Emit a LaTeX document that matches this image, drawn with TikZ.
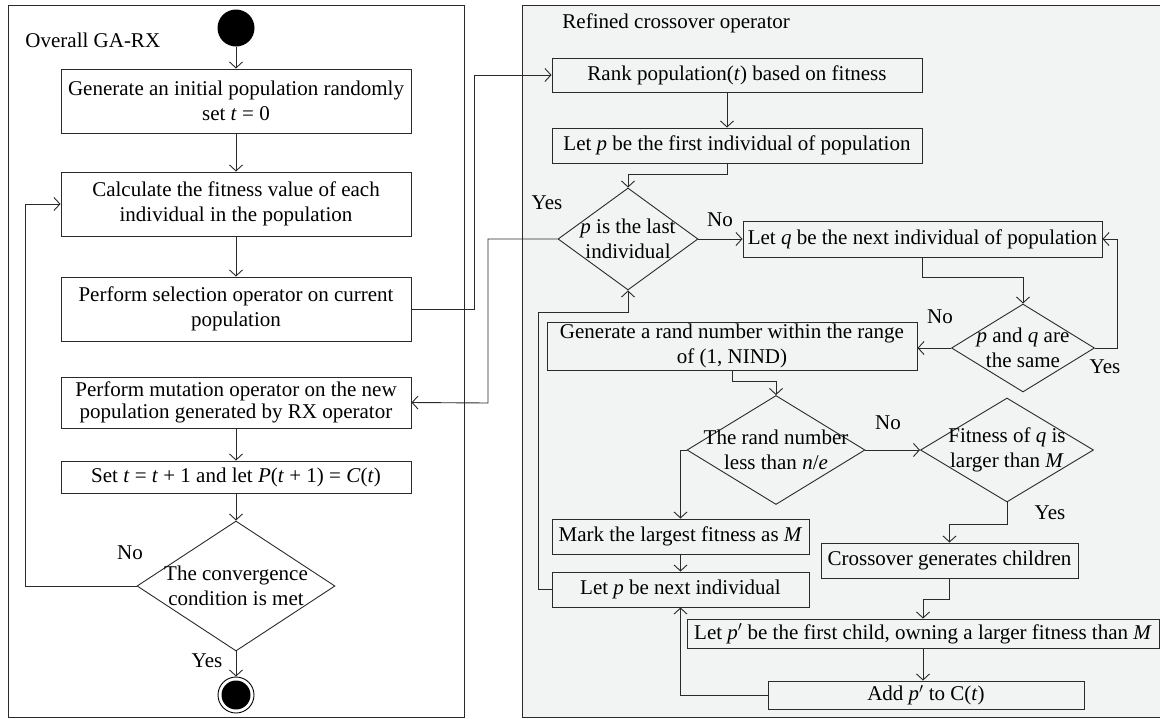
\documentclass[tikz,border=0pt]{standalone}
\usepackage{fontspec}
\setmainfont{Liberation Serif}
\usetikzlibrary{shapes.geometric,arrows.meta}
\definecolor{panelgray}{HTML}{F2F3F3}
\definecolor{linegray}{HTML}{2A2A2A}
\newcommand{\mv}[1]{\textit{#1}}

\begin{document}
\begin{tikzpicture}
    [x=1pt,y=-1pt,line width=0.9pt,draw=linegray,
     every node/.style={inner sep=0pt,font=\fontsize{21}{25}\selectfont},
     box/.style={draw=linegray,align=center,minimum width=#1},
     box/.default=350,
     dia/.style={draw=linegray,diamond},
     dtext/.style={align=center},
     >={Straight Barb[length=6pt,width=13pt]}]
    \useasboundingbox (0,0) rectangle (1160,718);
    \draw (8,5) rectangle (464,717);
    \draw[fill=panelgray] (522,5) rectangle (1175,717);

    \node[anchor=base west] (t1) at (25,47) {Overall GA-RX};
    \node[circle,fill=black,minimum size=37] (start) at (236,28) {};
    \node[box,minimum height=64] (b1) at (236,101) {Generate an initial population randomly\\set \mv{t} = 0};
    \node[box,minimum height=64] (b2) at (236,204) {Calculate the fitness value of each\\individual in the population};
    \node[box,minimum height=64] (b3) at (236,309) {Perform selection operator on current\\population};
    \node[box,minimum height=51,font=\fontsize{21}{22}\selectfont] (b4) at (236,402.5) {Perform mutation operator on the new\\population generated by RX operator};
    \node[box,minimum height=32] (b5) at (236,477) {Set \mv{t} = \mv{t} + 1 and let \mv{P}(\mv{t} + 1) = \mv{C}(\mv{t})};
    \node[dia,minimum width=198,minimum height=130] (d1) at (236,586) {};
    \node[dtext] (d1t) at (d1) {The convergence\\condition is met};
    \node[circle,draw=black,minimum size=36] (stop) at (236,695) {};
    \node[circle,fill=black,minimum size=29] (stopin) at (stop) {};
    \node (no1) at (130,553) {No};
    \node (yes1) at (207,661) {Yes};

    \node[anchor=base west] (t2) at (562,28) {Refined crossover operator};
    \node[box=370,minimum height=34] (r1) at (737,75) {Rank population(\mv{t}) based on fitness};
    \node[box=370,minimum height=35] (r2) at (737,145.5) {Let \mv{p} be the first individual of population};
    \node[dia,minimum width=140,minimum height=102] (d2) at (628,239) {};
    \node[dtext] (d2t) at (d2) {\mv{p} is the last\\individual};
    \node[box=359,minimum height=36] (r3) at (922.5,239) {Let \mv{q} be the next individual of population};
    \node[dia,minimum width=143,minimum height=88] (d3) at (1023,348) {};
    \node[dtext] (d3t) at (d3) {\mv{p} and \mv{q} are\\the same};
    \node[box=370,minimum height=48] (r4) at (732,346) {Generate a rand number within the range\\of (1, NIND)};
    \node[dia,minimum width=178,minimum height=109] (d4) at (776,450) {};
    \node[dtext] (d4t) at (d4) {The rand number\\less than \mv{n}/\mv{e}};
    \node[dia,minimum width=173,minimum height=104] (d5) at (1007,450) {};
    \node[dtext] (d5t) at (d5) {Fitness of \mv{q} is\\larger than \mv{M}};
    \node[box=257,minimum height=35] (r5) at (680.5,536.5) {Mark the largest fitness as \mv{M}};
    \node[box=257,minimum height=35] (r6) at (680.5,589.5) {Let \mv{p} be next individual};
    \node[box=257,minimum height=35] (r7) at (949.5,560.5) {Crossover generates children};
    \node[box=472,minimum height=29] (r8) at (923,633.5) {Let \mv{p}$'$ be the first child, owning a larger fitness than \mv{M}};
    \node[box=316,minimum height=28] (r9) at (926,695) {Add \mv{p}$'$ to C(\mv{t})};
    \node (yes2) at (547,203) {Yes};
    \node (no2) at (720,220) {No};
    \node (no3) at (940,317) {No};
    \node (yes3) at (1105,367) {Yes};
    \node (no4) at (888,423) {No};
    \node (yes4) at (1050,513) {Yes};

    \coordinate (c0) at (25,586);
    \coordinate (c1) at (474,309);
    \coordinate (c2) at (488,403);
    \coordinate (c4) at (538,312);

    \draw[->] (start) -- (b1);
    \draw[->] (b1) -- (b2);
    \draw[->] (b2) -- (b3);
    \draw[->] (b4) -- (b5);
    \draw[->] (b5) -- (d1);
    \draw[->] (d1) -- (stop);
    \draw[->] (d1.west) -- (c0) |- (b2.west);
    \draw[->] (b3.east) -- (c1) |- (r1.west);
    \draw[->] (d2.west) -| (c2) -- (b4.east);
    \draw[->] ([xshift=-10pt]r1.south) -- ([xshift=-10pt]r2.north);
    \draw[->] ([xshift=-10pt]r2.south) -- ++(0,11) -| (d2.north);
    \draw[->] (d2.east) -- (r3.west);
    \draw[->] (r3.south) -- ++(0,20) -| (d3.north);
    \draw[->] (d3.east) -- ++(22,0) |- (r3.east);
    \draw[->] (d3.west) -- (d3.west -| r4.east);
    \draw[->] (r4.south) -- ++(0,11) -| (d4.north);
    \draw[->] (d4.west) -| (r5.north);
    \draw[->] (d4.east) -- (d5.west);
    \draw[->] (r5) -- (r6);
    \draw[->] (d5.south) -- ++(0,22) -| (r7.north);
    \draw[->] (r7.south) -- ++(0,21) -| (r8.north);
    \draw[->] (r8.south) -- (r8.south |- r9.north);
    \draw[->] (r9.west) -| (r6.south);
    \draw[->] (r6.west) -| (c4) -| (d2.south);
  \end{tikzpicture}
\end{document}
